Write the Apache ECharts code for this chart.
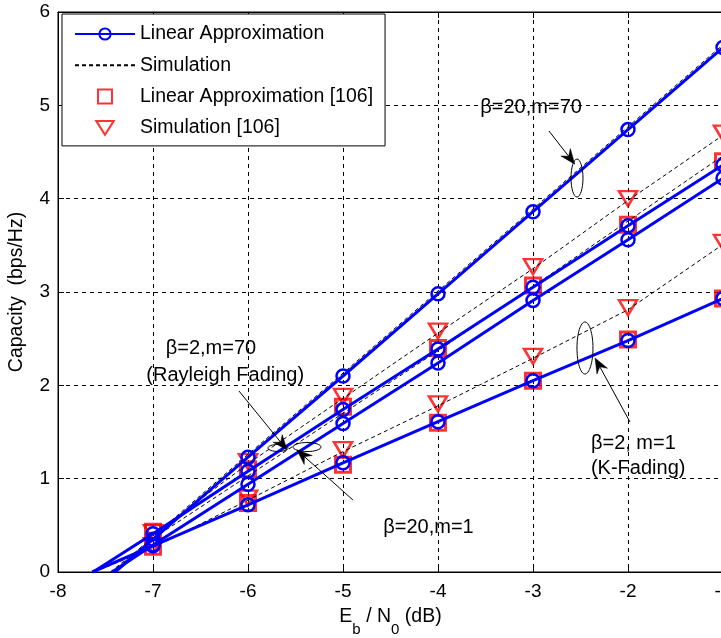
<!DOCTYPE html>
<html><head><meta charset="utf-8">
<script src="https://cdn.jsdelivr.net/npm/echarts@6/dist/echarts.min.js"></script>
<style>html,body{margin:0;padding:0;background:#fff}#c{width:721px;height:638px}</style>
</head><body><div id="c"></div>
<script>
// ---- data ----
const xTicks = [-7, -6, -5, -4, -3, -2, -1];
const xTickLabels = ['-8','-7','-6','-5','-4','-3','-2','-1'];
const yTickLabels = ['0','1','2','3','4','5','6'];

// Linear approximation (blue solid, circles); first value = x where capacity reaches 0
const laA_start = -7.40, laA = [0.35, 1.23, 2.10, 2.98, 3.86, 4.74, 5.62]; // beta=20, m=70
const laB_start = -7.63, laB = [0.41, 1.08, 1.74, 2.39, 3.05, 3.71, 4.36]; // beta=2, m=70
const laC_start = -7.43, laC = [0.29, 0.94, 1.59, 2.24, 2.91, 3.56, 4.22]; // beta=20, m=1
const laD_start = -7.64, laD = [0.28, 0.72, 1.17, 1.61, 2.05, 2.48, 2.93]; // beta=2, m=1

// Simulation (black dashed)
const simA_start = -7.42, simA = [0.38, 1.26, 2.13, 3.01, 3.89, 4.77, 5.65];
const simB_start = -7.62, simB = [0.40, 1.16, 1.86, 2.56, 3.25, 3.98, 4.68];
const simC_start = -7.45, simC = [0.36, 1.03, 1.70, 2.37, 3.06, 3.76, 4.46];
const simD_start = -7.62, simD = [0.26, 0.77, 1.29, 1.78, 2.29, 2.81, 3.51];

// Reference [106]
const refLA_B = [0.43, 1.10, 1.77, 2.40, 3.07, 3.72, 4.40];
const refLA_D = [0.27, 0.74, 1.15, 1.60, 2.05, 2.49, 2.93];
const refSim_B = [0.40, 1.16, 1.86, 2.56, 3.25, 3.98, 4.68];
const refSim_D = [0.26, 0.77, 1.29, 1.78, 2.29, 2.81, 3.51];

const legendNames = ['Linear Approximation', 'Simulation', 'Linear Approximation [106]', 'Simulation [106]'];

// annotations in data coordinates
const annoTexts = [
  { x: -3.02, y: 4.98, text: 'β=20,m=70', align: 'center' },
  { x: -6.39, y: 2.40, text: 'β=2,m=70', align: 'center' },
  { x: -6.24, y: 2.11, text: '(Rayleigh Fading)', align: 'center' },
  { x: -4.10, y: 0.48, text: 'β=20,m=1', align: 'center' },
  { x: -2.39, y: 1.38, text: 'β=2, m=1', align: 'left' },
  { x: -2.39, y: 1.11, text: '(K-Fading)', align: 'left' }
];
const annoArrows = [
  { from: [-2.832, 4.725], to: [-2.56, 4.37] },
  { from: [-6.095, 1.939], to: [-5.589, 1.307] },
  { from: [-4.895, 0.771], to: [-5.484, 1.307] },
  { from: [-1.979, 1.607], to: [-2.347, 2.293] }
];
const annoEllipses = [
  { x: -2.537, y: 4.221, rx: 6, ry: 19 },
  { x: -5.684, y: 1.329, rx: 10, ry: 3.5 },
  { x: -5.379, y: 1.339, rx: 14, ry: 4.5 },
  { x: -2.453, y: 2.40, rx: 8, ry: 26 }
];

// ---- build ----
const FONT = '"Liberation Sans", Arial, sans-serif';
function lineData(start, vals) {
  const d = [{ value: [start, 0], symbol: 'none' }];
  xTicks.forEach((x, i) => d.push([x, vals[i]]));
  return d;
}
function ptData(vals) { return xTicks.map((x, i) => [x, vals[i]]); }

const blue = '#0000ff', red = '#ff0000';
const SQ = 'path://M0,0L10,0L10,10L0,10Z';
const TRI = 'path://M0,0L20,0L10,16Z';
const series = [];
[refLA_B, refLA_D].forEach(v => series.push({
  name: legendNames[2], type: 'scatter', data: ptData(v), z: 2,
  symbol: 'rect', symbolSize: 15,
  itemStyle: { color: 'rgba(0,0,0,0)', borderColor: red, borderWidth: 3 }
}));
[refSim_B, refSim_D].forEach(v => series.push({
  name: legendNames[3], type: 'scatter', data: ptData(v), z: 2,
  symbol: TRI, symbolSize: [18, 15], symbolOffset: [0, -2],
  itemStyle: { color: 'rgba(0,0,0,0)', borderColor: red, borderWidth: 2.5 }
}));
[[simA_start, simA], [simB_start, simB], [simC_start, simC], [simD_start, simD]].forEach(p => series.push({
  name: legendNames[1], type: 'line', data: lineData(p[0], p[1]), z: 3,
  symbol: 'none', lineStyle: { color: '#000', width: 1, type: [4, 3] },
  itemStyle: { color: '#000' }
}));
[[laA_start, laA], [laB_start, laB], [laC_start, laC], [laD_start, laD]].forEach(p => series.push({
  name: legendNames[0], type: 'line', data: lineData(p[0], p[1]), z: 4,
  symbol: 'circle', symbolSize: 13, showAllSymbol: true,
  lineStyle: { color: blue, width: 3 },
  itemStyle: { color: 'rgba(0,0,0,0)', borderColor: blue, borderWidth: 2.5 }
}));

const chart = echarts.init(document.getElementById('c'), null, { renderer: 'canvas' });
chart.setOption({
  animation: false,
  backgroundColor: '#fff',
  textStyle: { fontFamily: FONT },
  grid: { left: 58, top: 12, width: 665, height: 560, containLabel: false, outerBoundsMode: 'none',
    show: true, borderColor: '#000', borderWidth: 1, backgroundColor: 'transparent' },
  legend: {
    data: [
      { name: legendNames[0] },
      { name: legendNames[1], itemStyle: { opacity: 0 } },
      { name: legendNames[2], icon: SQ },
      { name: legendNames[3], icon: TRI }
    ],
    orient: 'vertical', left: 62, top: 14,
    itemWidth: 60, itemHeight: 14, itemGap: 11.3,
    padding: [10, 12, 8, 12],
    backgroundColor: '#fff', borderColor: '#000', borderWidth: 1,
    textStyle: { fontSize: 19.5, color: '#000', fontFamily: FONT },
    selectedMode: false
  },
  xAxis: [{
    type: 'value', min: -8, max: -1, interval: 1,
    axisLine: { show: true, lineStyle: { color: '#000', width: 1 } },
    axisTick: { show: true, inside: true, length: 6, lineStyle: { color: '#000' } },
    axisLabel: { color: '#000', fontSize: 19, margin: 10, fontFamily: FONT,
      formatter: v => xTickLabels[Math.round(v + 8)] },
    splitLine: { show: true, lineStyle: { color: '#000', width: 1, type: [4, 4] } },
    name: '{a|E}{s|b}{a| / N}{s|0}{a| (dB)}', nameLocation: 'middle', nameGap: 35,
    nameTextStyle: { rich: {
      a: { fontSize: 19.5, color: '#000', fontFamily: FONT, lineHeight: 30, verticalAlign: 'top' },
      s: { fontSize: 15, color: '#000', fontFamily: FONT, lineHeight: 14, verticalAlign: 'bottom' }
    } }
  }, {
    type: 'value', position: 'top', min: -8, max: -1, interval: 1,
    axisLine: { show: true, lineStyle: { color: '#000' } },
    axisTick: { show: true, inside: true, length: 6, lineStyle: { color: '#000' } },
    axisLabel: { show: false }, splitLine: { show: false }
  }],
  yAxis: [{
    type: 'value', min: 0, max: 6, interval: 1,
    axisLine: { show: true, lineStyle: { color: '#000', width: 1 } },
    axisTick: { show: true, inside: true, length: 6, lineStyle: { color: '#000' } },
    axisLabel: { color: '#000', fontSize: 19, margin: 8, fontFamily: FONT,
      formatter: v => yTickLabels[Math.round(v)] },
    splitLine: { show: true, lineStyle: { color: '#000', width: 1, type: [4, 4] } },
    name: 'Capacity  (bps/Hz)', nameLocation: 'middle', nameGap: 31, nameRotate: 90,
    nameTextStyle: { fontSize: 19.5, color: '#000', fontFamily: FONT }
  }],
  series: series
});

// annotations
const px = p => chart.convertToPixel({ gridIndex: 0 }, p);
const graphics = [];
annoEllipses.forEach(e => {
  const c = px([e.x, e.y]);
  graphics.push({ type: 'ellipse', z: 100, shape: { cx: c[0], cy: c[1], rx: e.rx, ry: e.ry },
    style: { fill: null, stroke: '#000', lineWidth: 1 } });
});
annoArrows.forEach(a => {
  const p0 = px(a.from), p1 = px(a.to);
  const dx = p1[0] - p0[0], dy = p1[1] - p0[1];
  const L = Math.hypot(dx, dy), ux = dx / L, uy = dy / L, nx = -uy, ny = ux;
  const hl = 15, hw = 6, notch = 10;
  const bx = p1[0] - ux * hl, by = p1[1] - uy * hl;
  const mx = p1[0] - ux * notch, my = p1[1] - uy * notch;
  graphics.push({ type: 'line', z: 100, shape: { x1: p0[0], y1: p0[1], x2: mx, y2: my },
    style: { stroke: '#000', lineWidth: 1 } });
  graphics.push({ type: 'polygon', z: 100, shape: { points: [
    [p1[0], p1[1]], [bx + nx * hw, by + ny * hw], [mx, my], [bx - nx * hw, by - ny * hw]] },
    style: { fill: '#000', stroke: '#000', lineWidth: 0.5 } });
});
annoTexts.forEach(t => {
  const c = px([t.x, t.y]);
  graphics.push({ type: 'text', z: 101, x: c[0], y: c[1],
    style: { text: t.text, font: '20px ' + FONT, fill: '#000', align: t.align, verticalAlign: 'middle' } });
});
chart.setOption({ graphic: graphics });
</script></body></html>
